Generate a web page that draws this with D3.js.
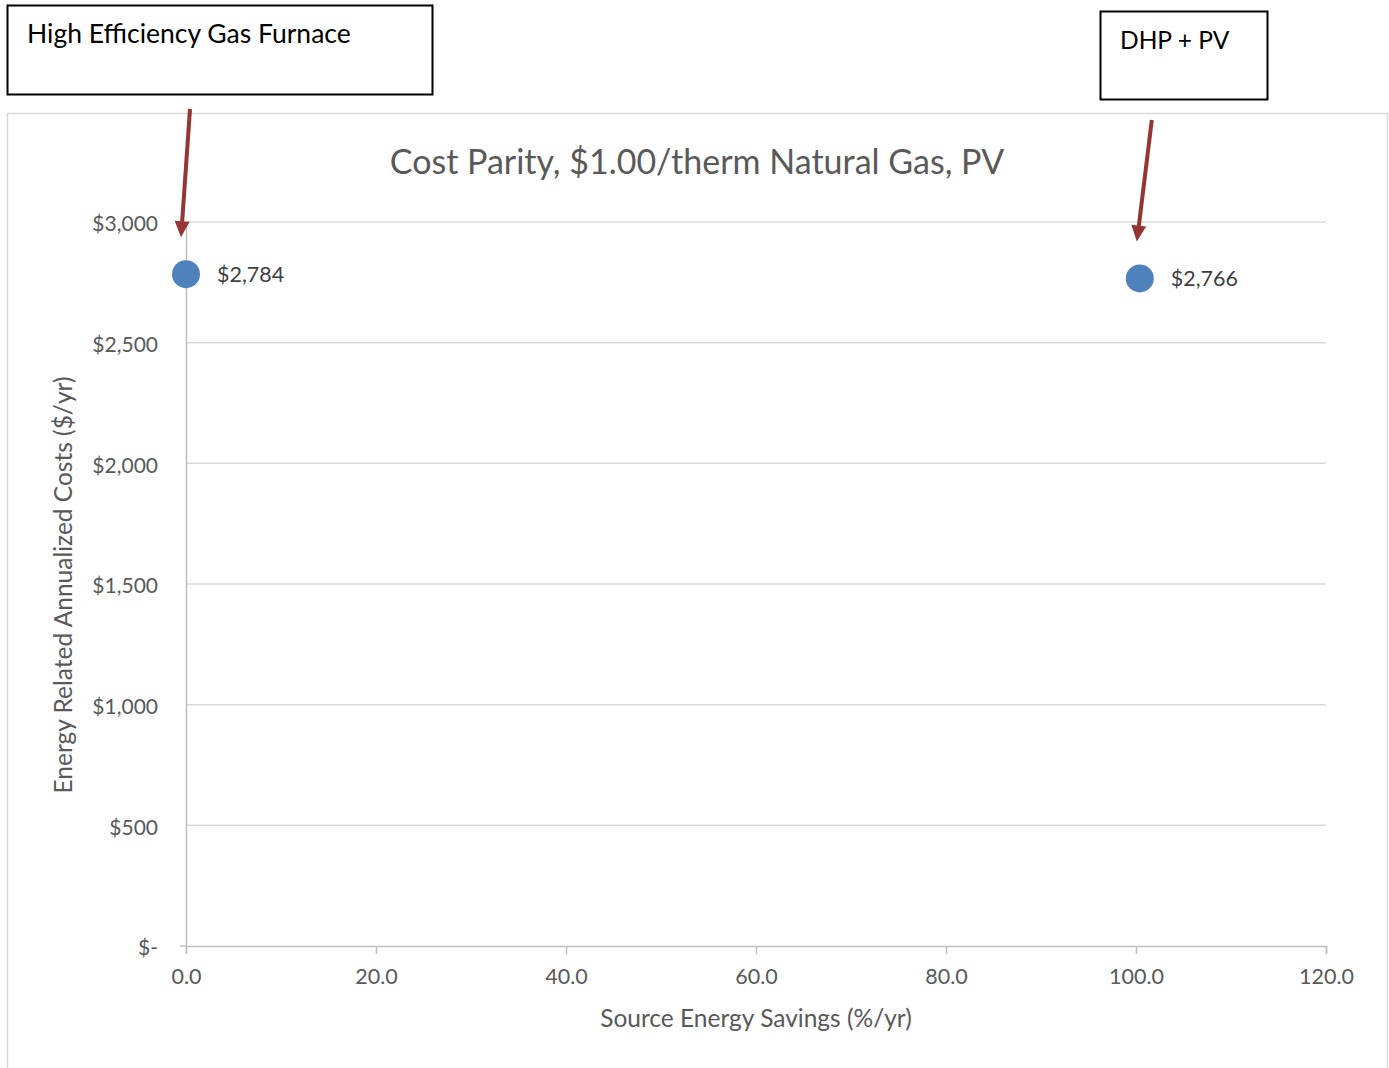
<!DOCTYPE html>
<html><head><meta charset="utf-8">
<script src="https://cdn.jsdelivr.net/npm/d3@7"></script>
<style>body{margin:0;background:#fff}svg{display:block}text{font-family:Lato,"Open Sans",sans-serif}</style>
</head><body>
<svg id="c" width="1389" height="1068"></svg>
<script>
const labels = ["High Efficiency Gas Furnace", "DHP + PV"];
const savings = [0.0, 100.4];
const costs = [2784, 2766];
const xTicks = [0, 20, 40, 60, 80, 100, 120];
const yTicks = [0, 500, 1000, 1500, 2000, 2500, 3000];
const title = "Cost Parity, $1.00/therm Natural Gas, PV";
const xTitle = "Source Energy Savings (%/yr)";
const yTitle = "Energy Related Annualized Costs ($/yr)";

const svg = d3.select("#c");
const x = d3.scaleLinear().domain([0, 120]).range([186, 1326]);
const y = d3.scaleLinear().domain([0, 3000]).range([946, 222]);

// chart frame
svg.append("rect").attr("x", 7.5).attr("y", 113.5).attr("width", 1380).attr("height", 1000)
  .attr("fill", "#fff").attr("stroke", "#d9d9d9").attr("stroke-width", 1.5);

svg.append("text").attr("x", 697).attr("y", 174).attr("text-anchor", "middle")
  .attr("font-size", 34).attr("fill", "#595959").text(title);

// gridlines
svg.append("g").selectAll("line").data(yTicks.filter(d => d > 0)).join("line")
  .attr("x1", x(0)).attr("x2", x(120)).attr("y1", d => y(d)).attr("y2", d => y(d))
  .attr("stroke", "#d9d9d9").attr("stroke-width", 1.5);

// y axis
const yAxis = svg.append("g").attr("transform", `translate(${x(0)},0)`)
  .call(d3.axisLeft(y).tickValues(yTicks).tickSize(0).tickPadding(28)
    .tickFormat(d => d === 0 ? "$-" : d3.format("$,")(d)));
yAxis.select(".domain").attr("stroke", "#bfbfbf").attr("stroke-width", 1.5);
yAxis.selectAll("text").attr("font-size", 21).attr("fill", "#595959").attr("dy", "0.42em")
  .attr("font-family", "Lato,'Open Sans',sans-serif");

// x axis
const xAxis = svg.append("g").attr("transform", `translate(0,${y(0)})`)
  .call(d3.axisBottom(x).tickValues(xTicks).tickSize(8).tickSizeOuter(8).tickPadding(15)
    .tickFormat(d3.format(".1f")));
xAxis.select(".domain").attr("stroke", "#bfbfbf").attr("stroke-width", 1.5);
xAxis.selectAll(".tick line").attr("stroke", "#bfbfbf").attr("stroke-width", 1.5);
xAxis.selectAll("text").attr("font-size", 21.5).attr("fill", "#595959").attr("font-family", "Lato,'Open Sans',sans-serif");
svg.append("line").attr("x1", x(0) - 6).attr("x2", x(0)).attr("y1", y(0)).attr("y2", y(0))
  .attr("stroke", "#bfbfbf").attr("stroke-width", 1.5);

// axis titles
svg.append("text").attr("x", 756).attr("y", 1027).attr("text-anchor", "middle")
  .attr("font-size", 24.5).attr("fill", "#595959").text(xTitle);
svg.append("text").attr("transform", "translate(72,585) rotate(-90)").attr("text-anchor", "middle")
  .attr("font-size", 24.5).attr("fill", "#595959").text(yTitle);

// points
const pts = savings.map((s, i) => ({s, c: costs[i], label: labels[i]}));
svg.append("g").selectAll("circle").data(pts).join("circle")
  .attr("cx", d => x(d.s)).attr("cy", d => y(d.c)).attr("r", 14).attr("fill", "#4f81bd");
svg.append("g").selectAll("text").data(pts).join("text")
  .attr("x", d => x(d.s) + 31).attr("y", d => y(d.c) + 8)
  .attr("font-size", 21.5).attr("fill", "#404040").text(d => d3.format("$,")(d.c));

// annotation boxes
const boxes = [
  {bx: 7, by: 5, w: 425, h: 89, fs: 26.5},
  {bx: 1100, by: 11, w: 167, h: 88, fs: 24.5}
];
const ann = svg.append("g").selectAll("g").data(pts).join("g");
ann.append("rect").attr("x", (d, i) => boxes[i].bx + 0.5).attr("y", (d, i) => boxes[i].by + 0.5)
  .attr("width", (d, i) => boxes[i].w).attr("height", (d, i) => boxes[i].h)
  .attr("fill", "#fff").attr("stroke", "#000").attr("stroke-width", 2);
ann.append("text").attr("x", (d, i) => boxes[i].bx + 20).attr("y", (d, i) => boxes[i].by + 38)
  .attr("font-size", (d, i) => boxes[i].fs).attr("fill", "#000").text(d => d.label);

// arrows (line + explicit triangular head)
const arrowGeom = (d, i) => {
  const far = d.s > 50;
  const x1 = x(d.s) + 4 + (far ? 8 : 0), y1 = boxes[i].by + boxes[i].h + 15 + (far ? 6 : 0);
  const x2 = x(d.s) - 5 + (far ? 2 : 0), y2 = y(d.c) - 37;
  const len = Math.hypot(x2 - x1, y2 - y1), ux = (x2 - x1) / len, uy = (y2 - y1) / len;
  const hl = 16, hw = 7.5;
  const bx = x2 - ux * hl, by = y2 - uy * hl;
  return {x1, y1, bx, by, x2, y2, px: -uy * hw, py: ux * hw};
};
ann.append("line")
  .attr("x1", (d, i) => arrowGeom(d, i).x1).attr("y1", (d, i) => arrowGeom(d, i).y1)
  .attr("x2", (d, i) => arrowGeom(d, i).bx).attr("y2", (d, i) => arrowGeom(d, i).by + 1)
  .attr("stroke", "#963634").attr("stroke-width", 4);
ann.append("path").attr("fill", "#963634")
  .attr("d", (d, i) => { const g = arrowGeom(d, i);
    return `M${g.x2},${g.y2}L${g.bx + g.px},${g.by + g.py}L${g.bx - g.px},${g.by - g.py}Z`; });
</script>
</body></html>
